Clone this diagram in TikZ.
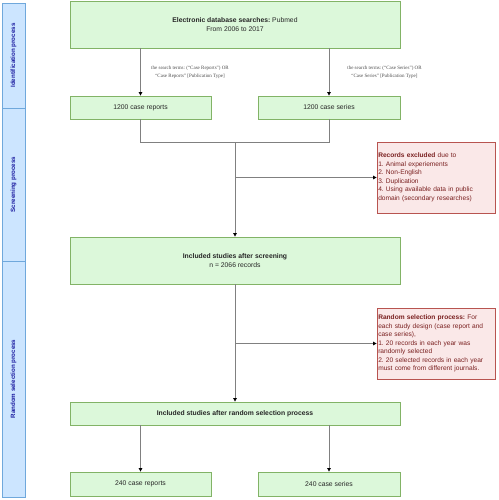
\documentclass[tikz,border=0pt]{standalone}
\usepackage{fontspec}
\setmainfont{Liberation Sans}
\newfontfamily\labfont{Liberation Serif}
\usetikzlibrary{arrows.meta}
\definecolor{gfill}{HTML}{DCF8DA}
\definecolor{gline}{HTML}{82B366}
\definecolor{rfill}{HTML}{FAE8E8}
\definecolor{rline}{HTML}{B85450}
\definecolor{rtext}{HTML}{7A2020}
\definecolor{lfill}{HTML}{CCE5FF}
\definecolor{lline}{HTML}{6FA8DC}
\definecolor{ltext}{HTML}{1C1CA0}
\definecolor{conn}{HTML}{808080}
\frenchspacing
\begin{document}
\begin{tikzpicture}[x=1pt,y=-1pt,
  greenbox/.style={draw=gline,fill=gfill,line width=0.8pt,inner sep=1pt,align=center,font=\fontsize{6.8}{8.6}\selectfont,text=black!85},
  redbox/.style={draw=rline,fill=rfill,line width=0.8pt,inner sep=1.2pt,align=left,font=\fontsize{6.6}{8.5}\selectfont,text=rtext,minimum width=118pt,minimum height=71pt,text width=115.5pt},
  lanebox/.style={draw=lline,fill=lfill,line width=0.8pt,minimum width=23pt,inner sep=0pt},
  lanetext/.style={rotate=90,font=\fontsize{6.2}{7}\selectfont\bfseries,text=ltext},
  conline/.style={draw=conn,line width=0.8pt},
  arr/.style={conline,-{Triangle[length=3.5pt,width=3.5pt,fill=black,color=black]}},
  elabel/.style={font=\labfont\fontsize{5}{8.5}\selectfont,text=black!70,align=center}]
\useasboundingbox (0,0) rectangle (498,500);
% lanes
\node[lanebox,minimum height=105pt] (lane1) at (13.5,55.5) {};
\node[lanebox,minimum height=153pt] (lane2) at (13.5,184.5) {};
\node[lanebox,minimum height=236pt] (lane3) at (13.5,379) {};
\node[lanetext] (t1) at (lane1.center) {Identification process};
\node[lanetext] (t2) at (lane2.center) {Screening process};
\node[lanetext] (t3) at (lane3.center) {Random selection process};
% boxes
\node[greenbox,minimum width=330pt,minimum height=47pt] (top) at (235,24.5) {\textbf{Electronic database searches:} Pubmed\\From 2006 to 2017};
\node[greenbox,minimum width=141pt,minimum height=23pt] (cr1) at (140.5,107.5) {1200 case reports};
\node[greenbox,minimum width=142pt,minimum height=23pt] (cs1) at (329,107.5) {1200 case series};
\node[redbox] (excl) at (436,177.5) {\textbf{Records excluded} due to\\1. Animal experiements\\2. Non-English\\3. Duplication\\4. Using available data in public\\domain (secondary researches)};
\node[greenbox,minimum width=330pt,minimum height=47pt] (incl) at (235,260.5) {\textbf{Included studies after screening}\\n = 2066 records};
\node[redbox] (rand) at (436,343.5) {\textbf{Random selection process:} For\\each study design (case report and\\case series),\\1. 20 records in each year was\\randomly selected\\2. 20 selected records in each year\\must come from different journals.};
\node[greenbox,minimum width=330pt,minimum height=23pt] (incl2) at (235,413.5) {\textbf{Included studies after random selection process}};
\node[greenbox,minimum width=141pt,minimum height=24pt] (cr2) at (140.5,484) {240 case reports};
\node[greenbox,minimum width=142pt,minimum height=24pt] (cs2) at (329,484) {240 case series};
% connectors
\draw[arr] (cr1.north |- top.south) -- (cr1.north);
\draw[arr] (cs1.north |- top.south) -- (cs1.north);
\node[elabel] (lab1) at (190,72.5) {the search terms: (“Case Reports”) OR\\“Case Reports” [Publication Type]};
\node[elabel] (lab2) at (384.5,72.5) {the search terms: (“Case Series”) OR\\“Case Series” [Publication Type]};
\coordinate (j) at (235,142);
\draw[conline] (cr1.south) |- (j);
\draw[conline] (cs1.south) |- (j);
\draw[arr] (j) -- (incl.north);
\draw[arr] (j |- excl.west) -- (excl.west);
\draw[arr] (incl.south) -- (incl2.north);
\draw[arr] (incl.south |- rand.west) -- (rand.west);
\draw[arr] (cr2.north |- incl2.south) -- (cr2.north);
\draw[arr] (cs2.north |- incl2.south) -- (cs2.north);
\end{tikzpicture}
\end{document}
